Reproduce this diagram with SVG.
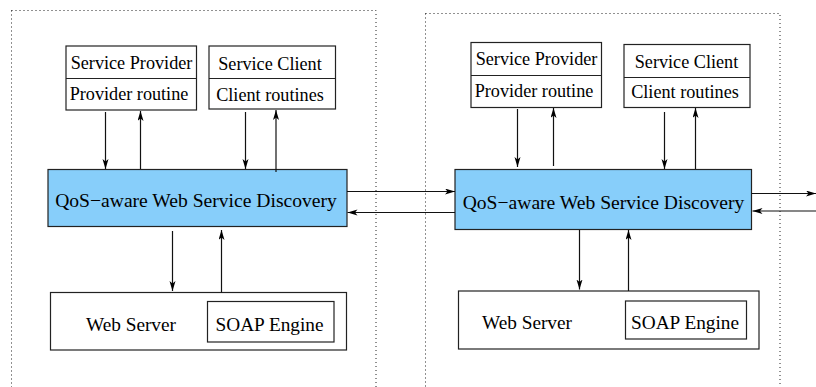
<svg xmlns="http://www.w3.org/2000/svg" width="816" height="387" viewBox="0 0 816 387">
<defs>
<style>
.bg{fill:#fff}
.frame{fill:none;stroke:#222;stroke-width:1;stroke-dasharray:1 3}
.box{fill:#fff;stroke:#222;stroke-width:1.2}
.blue{fill:#87cefa;stroke:#222;stroke-width:1.2}
.t{font-family:"Liberation Serif","Times New Roman",serif;fill:#000;text-anchor:middle}
.s18{font-size:18.2px}
.s19{font-size:19.3px}
.s20{font-size:19.6px}
.c{stroke:#111;stroke-width:1.2;fill:none;marker-end:url(#ah)}
</style>
<marker id="ah" markerUnits="userSpaceOnUse" markerWidth="12" markerHeight="8" refX="10" refY="3" orient="auto">
<path d="M0,0 L10,3 L0,6 L2.5,3 z" fill="#000"/>
</marker>
</defs>
<rect class="bg" x="0" y="0" width="816" height="387"/>
<g id="frames">
<rect class="frame" x="11.5" y="10.5" width="364.5" height="390"/>
<rect class="frame" x="425.5" y="13.5" width="354.5" height="390"/>
</g>
<g id="left-provider">
<rect class="box" x="66" y="46" width="130.5" height="64"/>
<line x1="66" y1="78.5" x2="196.5" y2="78.5" stroke="#222" stroke-width="1.2"/>
<text class="t s18" x="131.5" y="69">Service Provider</text>
<text class="t s18" x="129" y="100">Provider routine</text>
</g>
<g id="left-client">
<rect class="box" x="209" y="46" width="126.5" height="63"/>
<line x1="209" y1="78.5" x2="335.5" y2="78.5" stroke="#222" stroke-width="1.2"/>
<text class="t s18" x="270" y="70">Service Client</text>
<text class="t s18" x="270" y="100.5">Client routines</text>
</g>
<g id="left-discovery">
<rect class="blue" x="48" y="169.5" width="299" height="57"/>
<text class="t s20" x="196" y="206.5">QoS−aware Web Service Discovery</text>
</g>
<g id="left-webserver">
<rect class="box" x="50.5" y="292.5" width="296" height="57.5"/>
<text class="t s19" x="131" y="330.5">Web Server</text>
<g id="left-soap">
<rect class="box" x="207.5" y="301.5" width="126.5" height="40.5"/>
<text class="t s19" x="269.5" y="330.5">SOAP Engine</text>
</g>
</g>
<g id="right-provider">
<rect class="box" x="471" y="42.5" width="130.5" height="65"/>
<line x1="471" y1="75.5" x2="601.5" y2="75.5" stroke="#222" stroke-width="1.2"/>
<text class="t s18" x="536.5" y="65">Service Provider</text>
<text class="t s18" x="534" y="96.5">Provider routine</text>
</g>
<g id="right-client">
<rect class="box" x="624" y="44.5" width="126" height="63"/>
<line x1="624" y1="77.5" x2="750" y2="77.5" stroke="#222" stroke-width="1.2"/>
<text class="t s18" x="686.5" y="68">Service Client</text>
<text class="t s18" x="685" y="97.5">Client routines</text>
</g>
<g id="right-discovery">
<rect class="blue" x="455" y="169.5" width="296.5" height="60"/>
<text class="t s20" x="603.5" y="209">QoS−aware Web Service Discovery</text>
</g>
<g id="right-webserver">
<rect class="box" x="458.5" y="291" width="300.5" height="58"/>
<text class="t s19" x="527" y="329">Web Server</text>
<g id="right-soap">
<rect class="box" x="625.5" y="301" width="121" height="38"/>
<text class="t s19" x="685" y="329">SOAP Engine</text>
</g>
</g>
<g id="connectors">
<line class="c" x1="105.5" y1="112" x2="105.5" y2="169"/>
<line class="c" x1="140.5" y1="169" x2="140.5" y2="111"/>
<line class="c" x1="245.5" y1="112" x2="245.5" y2="169"/>
<line class="c" x1="276" y1="172" x2="276" y2="110"/>
<line class="c" x1="172.5" y1="231" x2="172.5" y2="291"/>
<line class="c" x1="221.5" y1="292.5" x2="221.5" y2="230"/>
<line class="c" x1="517.5" y1="109" x2="517.5" y2="167"/>
<line class="c" x1="553.5" y1="166" x2="553.5" y2="108"/>
<line class="c" x1="664.5" y1="112" x2="664.5" y2="169"/>
<line class="c" x1="695.5" y1="169" x2="695.5" y2="108"/>
<line class="c" x1="579.5" y1="230" x2="579.5" y2="289.5"/>
<line class="c" x1="628.5" y1="291" x2="628.5" y2="230"/>
<line class="c" x1="347" y1="191.5" x2="455" y2="191.5"/>
<line class="c" x1="455" y1="212.5" x2="347.5" y2="212.5"/>
<line class="c" x1="751.5" y1="193.5" x2="816" y2="193.5"/>
<line class="c" x1="816" y1="211" x2="752.5" y2="211"/>
</g>
</svg>
